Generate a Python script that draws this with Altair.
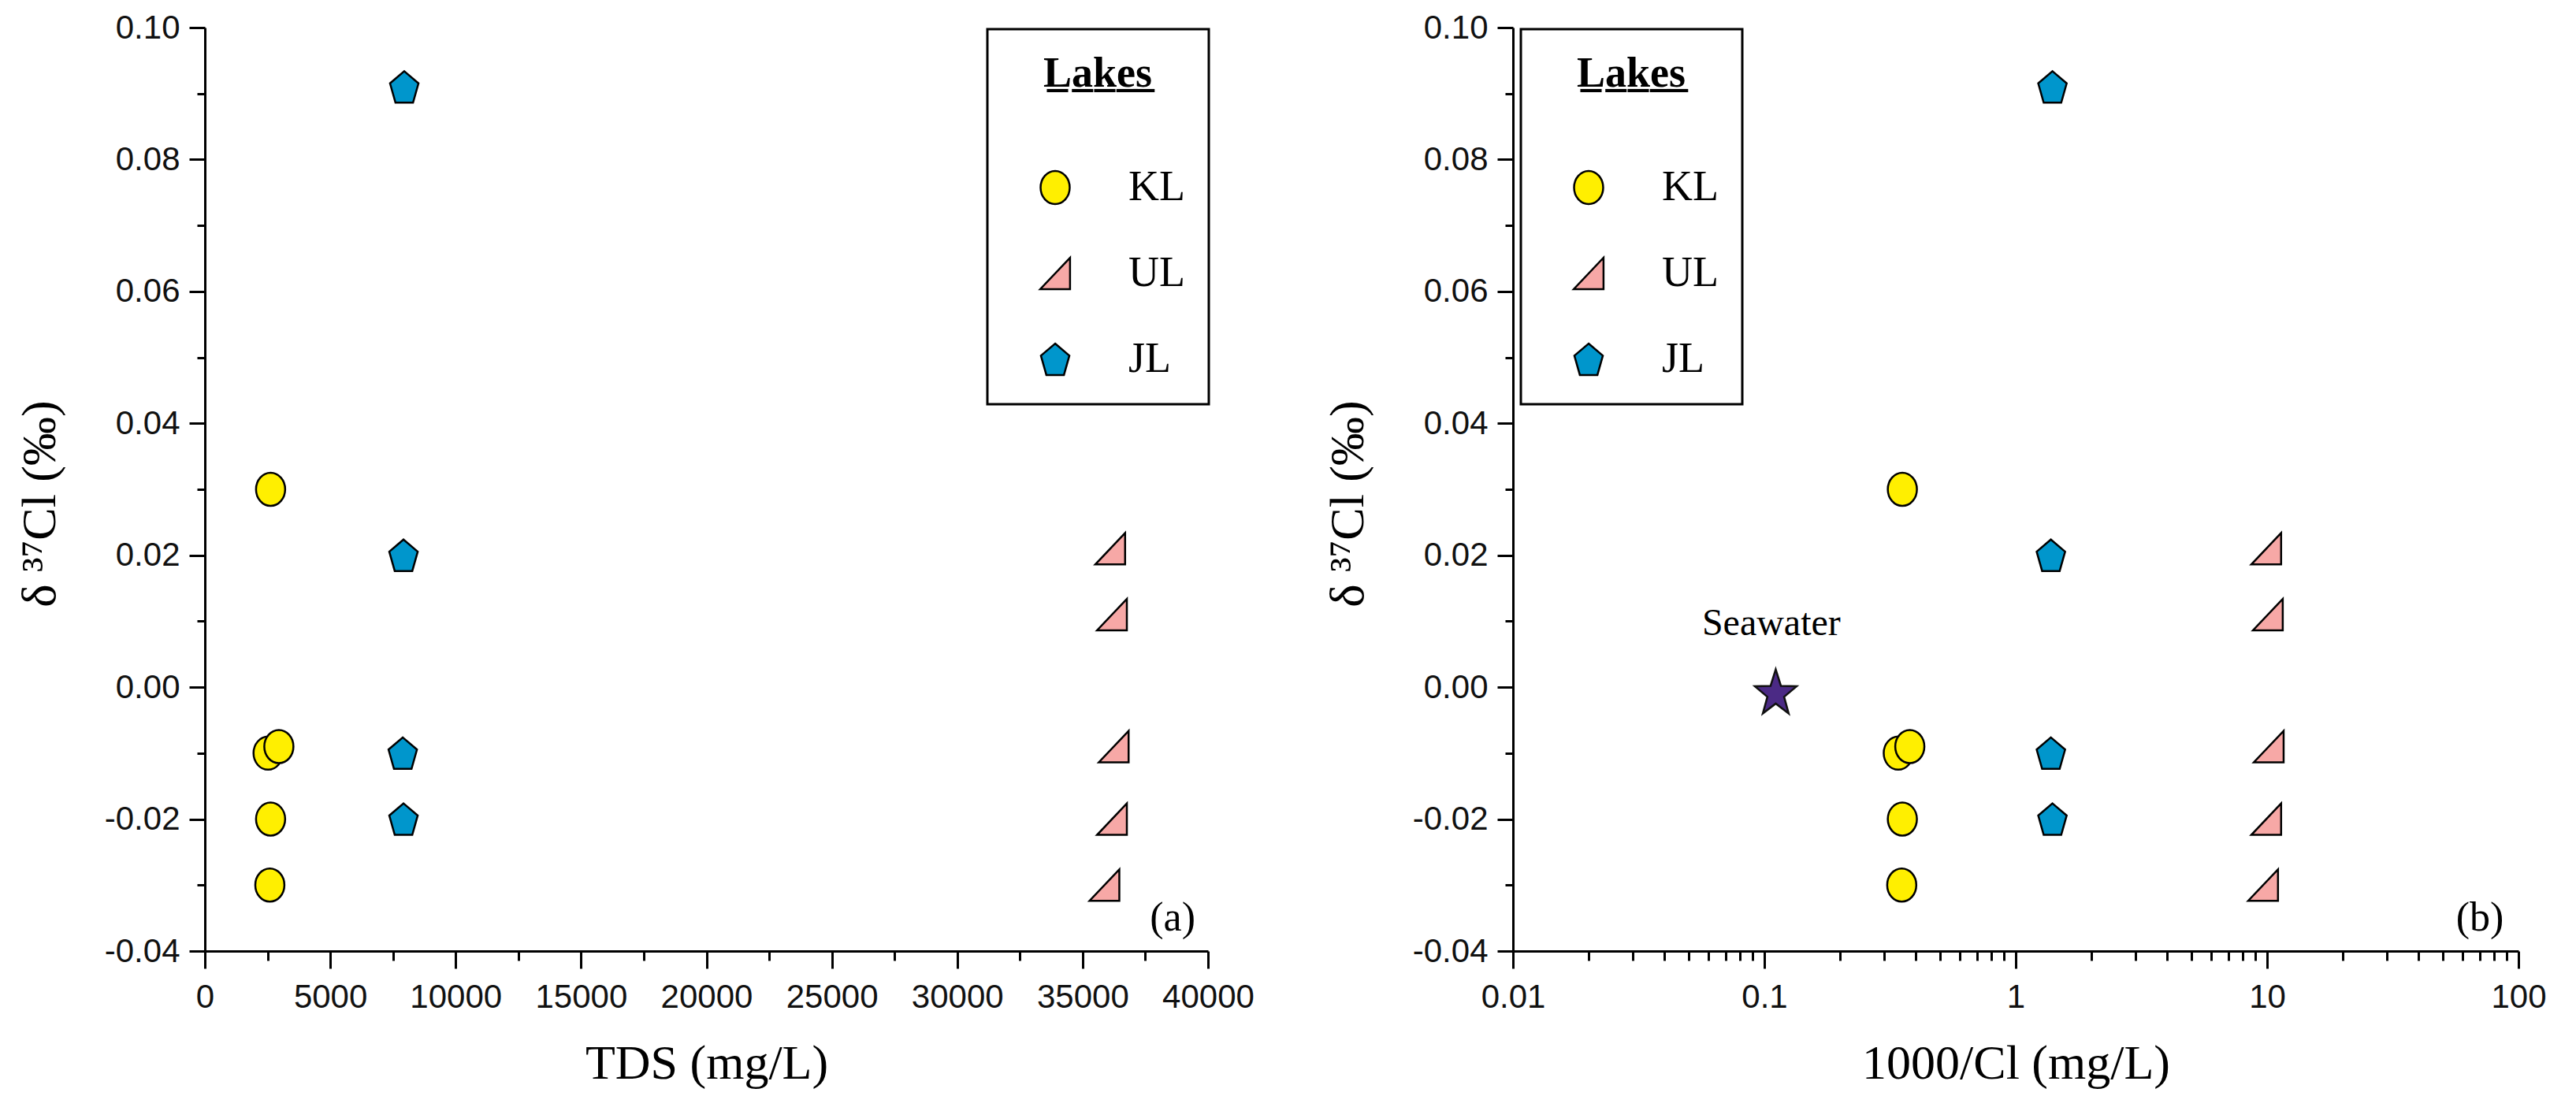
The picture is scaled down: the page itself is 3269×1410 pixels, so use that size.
import math
import altair as alt
import pandas as pd

# ---------------- data ----------------
lake_order = ["KL", "UL", "JL"]
lake_colors = ["#FFEF00", "#F7A8A6", "#0096CC"]

kl_d37 = [0.030, -0.010, -0.009, -0.020, -0.030]
kl_tds = [2620, 2520, 2950, 2620, 2590]
kl_icl = [0.354, 0.341, 0.379, 0.354, 0.352]

ul_d37 = [0.021, 0.011, -0.009, -0.020, -0.030]
ul_tds = [36100, 36170, 36240, 36170, 35870]
ul_icl = [9.92, 10.07, 10.15, 9.92, 9.64]

jl_d37 = [0.091, 0.020, -0.010, -0.020]
jl_tds = [7950, 7920, 7890, 7920]
jl_icl = [1.40, 1.38, 1.38, 1.40]

sea_icl = [0.111]
sea_d37 = [-0.001]
sea_label = ["Seawater"]
sea_label_icl = [0.1066]
sea_label_d37 = [0.0096]

panel_a = ["(a)"]
panel_a_x = [38590]
panel_b = ["(b)"]
panel_b_x = [70.2]
panel_y = [-0.035]

y_ticks = [round(-0.04 + 0.01 * i, 2) for i in range(15)]
x_ticks_a = [2500 * i for i in range(17)]
x_ticks_b = [round(d * k, 6) for d in [0.01, 0.1, 1, 10] for k in range(1, 10)] + [100]

rows = []
for name, d, t, c in [("KL", kl_d37, kl_tds, kl_icl),
                      ("UL", ul_d37, ul_tds, ul_icl),
                      ("JL", jl_d37, jl_tds, jl_icl)]:
    for a, b, e in zip(d, t, c):
        rows.append({"lake": name, "d37": a, "tds": b, "icl": e})
df = pd.DataFrame(rows)

sea_df = pd.DataFrame({"icl": sea_icl, "d37": sea_d37})
sea_txt = pd.DataFrame({"icl": sea_label_icl, "d37": sea_label_d37, "t": sea_label})
pa_df = pd.DataFrame({"x": panel_a_x, "y": panel_y, "t": panel_a})
pb_df = pd.DataFrame({"x": panel_b_x, "y": panel_y, "t": panel_b})

# ---------------- symbol shapes ----------------
circle_path = "M-0.88,0 A0.88,1 0 1,0 0.88,0 A0.88,1 0 1,0 -0.88,0 Z"
tri_path = "M-0.9,0.95 L0.9,0.95 L0.9,-0.95 Z"
pent_path = "M0,-0.95 L0.86,-0.22 L0.53,0.95 L-0.53,0.95 L-0.86,-0.22 Z"
pts = []
for i in range(10):
    ang = -math.pi / 2 + i * math.pi / 5
    rad = 1.0 if i % 2 == 0 else 0.4
    pts.append(f"{0.9 * rad * math.cos(ang):.3f},{rad * math.sin(ang):.3f}")
star_path = "M" + " L".join(pts) + " Z"

SERIF = "Liberation Serif"
SANS = "Liberation Sans"
W_A, W_B, H = 1273, 1276, 1172

y_major = "abs(round(datum.value*100)) % 2 === 0"
y_axis = alt.Axis(
    title="δ ³⁷Cl (‰)", values=y_ticks,
    labelExpr=f"{y_major} ? replace(format(datum.value, '.2f'), '\u2212', '-') : ''",
    tickSize={"condition": {"test": y_major, "value": 20}, "value": 10},
    labelPadding=12, titlePadding=50, titleY=604,
)
y_enc = alt.Y("d37:Q", scale=alt.Scale(domain=[-0.04, 0.10], nice=False, zero=False), axis=y_axis)


def legend(x):
    return alt.Legend(
        title="L\u0332a\u0332k\u0332e\u0332s\u0332", orient="none", legendX=x, legendY=2,
        direction="vertical",
        titleFont=SERIF, titleFontSize=54, titleFontWeight="bold", titleColor="black",
        titleAnchor="middle", titlePadding=90,
        labelFont=SERIF, labelFontSize=54, labelColor="black",
        labelExpr="datum.label + '\u00a0\u00a0'",
        symbolSize=1764, symbolStrokeColor="black", symbolStrokeWidth=2.5,
        symbolOffset=29, labelOffset=66, rowPadding=55,
        padding=30, strokeColor="black", fillColor="white",
    )


def point_layer(xfield, xscale, xaxis, lx):
    leg = legend(lx)
    return alt.Chart(df).mark_point(filled=True, stroke="black", strokeWidth=2.5,
                                    opacity=1, size=1764).encode(
        x=alt.X(xfield, scale=xscale, axis=xaxis),
        y=y_enc,
        color=alt.Color("lake:N", scale=alt.Scale(domain=lake_order, range=lake_colors), legend=leg),
        shape=alt.Shape("lake:N", scale=alt.Scale(domain=lake_order,
                                                  range=[circle_path, tri_path, pent_path]), legend=leg),
        order=alt.Order("lake:N", sort="ascending"),
    )


# ---------------- panel (a) ----------------
xa_major = "datum.value % 5000 === 0"
xa_axis = alt.Axis(
    title="TDS (mg/L)", values=x_ticks_a,
    labelExpr=f"{xa_major} ? format(datum.value, 'd') : ''",
    tickSize={"condition": {"test": xa_major, "value": 22}, "value": 12},
    labelPadding=16, titlePadding=33, labelFlush=False,
)
xa_scale = alt.Scale(domain=[0, 40000], nice=False, zero=False)
pts_a = point_layer("tds:Q", xa_scale, xa_axis, 993)
lab_a = alt.Chart(pa_df).mark_text(font=SERIF, fontSize=52, color="black").encode(
    x=alt.X("x:Q", scale=xa_scale), y=alt.Y("y:Q"), text="t:N")
left = alt.layer(pts_a, lab_a).properties(width=W_A, height=H)

# ---------------- panel (b) ----------------
xb_major = "abs(log(datum.value)/LN10 - round(log(datum.value)/LN10)) < 0.001"
xb_axis = alt.Axis(
    title="1000/Cl (mg/L)", values=x_ticks_b,
    labelExpr=f"{xb_major} ? format(datum.value, '~g') : ''",
    tickSize={"condition": {"test": xb_major, "value": 22}, "value": 12},
    labelPadding=16, titlePadding=33, labelFlush=False,
)
xb_scale = alt.Scale(type="log", domain=[0.01, 100], nice=False)
pts_b = point_layer("icl:Q", xb_scale, xb_axis, 10)
star = alt.Chart(sea_df).mark_point(shape=star_path, filled=True, fill="#4B2A85", stroke="#111111",
                                    strokeWidth=2.5, size=3844, opacity=1).encode(
    x=alt.X("icl:Q", scale=xb_scale), y=alt.Y("d37:Q"))
sea_t = alt.Chart(sea_txt).mark_text(font=SERIF, fontSize=48, color="black").encode(
    x=alt.X("icl:Q", scale=xb_scale), y=alt.Y("d37:Q"), text="t:N")
lab_b = alt.Chart(pb_df).mark_text(font=SERIF, fontSize=52, color="black").encode(
    x=alt.X("x:Q", scale=xb_scale), y=alt.Y("y:Q"), text="t:N")
right = alt.layer(pts_b, star, sea_t, lab_b).properties(width=W_B, height=H)

chart = alt.hconcat(left, right, spacing=86,
                    padding={"left": 10, "top": 5, "right": 5, "bottom": 5}).resolve_scale(
    color="independent", shape="independent"
).configure(background="white").configure_view(stroke="transparent").configure_axis(
    grid=False, domainColor="black", domainWidth=3, tickColor="black", tickWidth=3,
    labelFont=SANS, labelFontSize=42, labelColor="#111111", labelOverlap=False,
    titleFont=SERIF, titleFontSize=62, titleFontWeight="normal", titleColor="black",
).configure_legend(strokeWidth=3)

chart.save("out.html", embed_options={"renderer": "svg", "actions": False})
